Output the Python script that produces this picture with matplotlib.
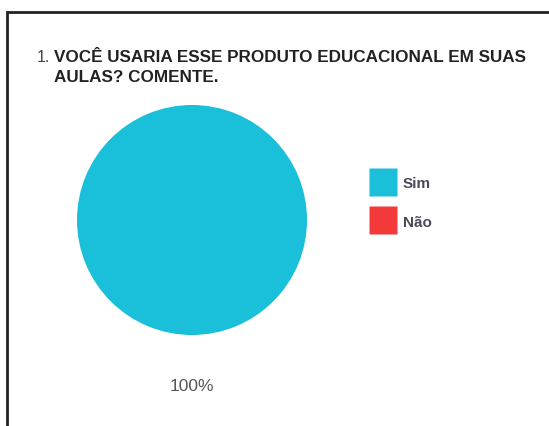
import matplotlib.pyplot as plt
from matplotlib.patches import Rectangle
from matplotlib.lines import Line2D

# survey answer data
categories = ["Sim", "Não"]
values = [100, 0]
colors = ["#1ABFDA", "#F23A3A"]

title_num = "1."
title_line1 = "VOCÊ USARIA ESSE PRODUTO EDUCACIONAL EM SUAS"
title_line2 = "AULAS? COMENTE."

W, H = 549, 427
plt.rcParams["font.family"] = ["Liberation Sans", "DejaVu Sans"]

fig = plt.figure(figsize=(W / 100, H / 100), dpi=100)
fig.patch.set_facecolor("white")

# frame of the screenshot (only top and left visible)
fig.add_artist(Rectangle((7 / W, -0.1), 1.2, 1 - 13 / H + 0.1,
                         transform=fig.transFigure, fill=False,
                         edgecolor="#222222", linewidth=2))

# title
fig.text(37 / W, 1 - 57 / H, title_num, fontsize=11.5, color="#444444",
         va="center", ha="left")
fig.text(54 / W, 1 - 57 / H, title_line1, fontsize=12.3, fontweight="bold",
         color="#222222", va="center", ha="left")
fig.text(54 / W, 1 - 77 / H, title_line2, fontsize=12.3, fontweight="bold",
         color="#222222", va="center", ha="left")

# pie
cx, cy, r = 192, 221, 115
ax = fig.add_axes([(cx - r) / W, (H - cy - r) / H, 2 * r / W, 2 * r / H])
ax.pie(values, colors=colors, startangle=90, radius=1,
       autopct=lambda p: f"{p:.0f}%" if p > 0 else "",
       pctdistance=1.44,
       textprops={"fontsize": 12.5, "color": "#555555"},
       wedgeprops={"linewidth": 0})
ax.set_xlim(-1, 1)
ax.set_ylim(-1, 1)
ax.set_aspect("equal")
ax.axis("off")

# legend
handles = [Line2D([], [], linestyle="none", marker="s", markersize=20,
                  markerfacecolor=c, markeredgecolor="none") for c in colors]
fig.legend(handles, categories, loc="center left",
           bbox_to_anchor=(363 / W, 1 - 203.5 / H), frameon=False,
           handlelength=1.6, handletextpad=0.5,
           labelspacing=1.6, borderpad=0,
           prop={"size": 11, "weight": "bold"}, labelcolor="#4a4a5a")

fig.savefig("out.png", dpi=100)
